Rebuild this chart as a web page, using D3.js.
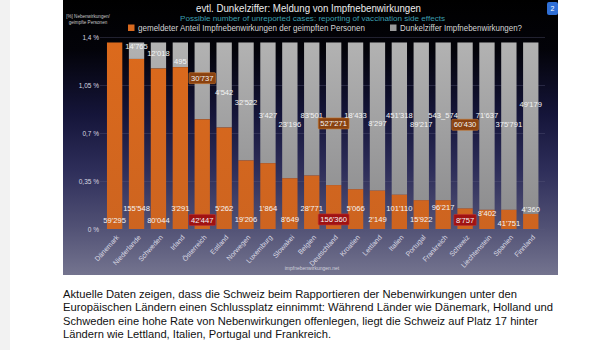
<!DOCTYPE html>
<html><head><meta charset="utf-8">
<script src="https://cdn.jsdelivr.net/npm/d3@7"></script>
<style>html,body{margin:0;padding:0;background:#fff;}svg{display:block;}</style>
</head><body>
<script>
// ---- data ----
const countries = ["Dänemark","Niederlande","Schweden","Irland","Österreich","Estland","Norwegen","Luxemburg","Slowakei","Belgien","Deutschland","Kroatien","Lettland","Italien","Portugal","Frankreich","Schweiz","Liechtenstein","Spanien","Finnland"];
const reportedShare   = [1.36,1.24,1.17,1.18,0.80,0.74,0.50,0.48,0.37,0.39,0.32,0.29,0.28,0.25,0.21,0.21,0.15,0.14,0.14,0.11];
const unreportedShare = [0.00,0.12,0.19,0.18,0.56,0.62,0.86,0.88,0.99,0.97,1.04,1.07,1.08,1.11,1.15,1.15,1.21,1.22,1.22,1.25];
const reportedCases   = ["59'295","155'548","80'044","3'291","42'447","5'262","19'206","1'864","8'649","28'771","156'360","5'066","2'149","101'110","15'922","96'217","8'757","8'402","41'751","4'360"];
const unreportedCases = ["","14'765","12'018","495","30'737","4'542","32'522","3'427","23'196","83'501","527'271","18'433","8'297","451'318","89'217","543_574","60'430","71'637","375'791","49'179"];
const highlighted = ["Österreich","Deutschland","Schweiz"];
const yTicks = [0,0.35,0.7,1.05,1.4];
const yTickLabels = ["0 %","0,35 %","0,7 %","1,05 %","1,4 %"];
const legendLabels = ["gemeldeter Anteil Impfnebenwirkungen der geimpften Personen","Dunkelziffer Impfnebenwirkungen?"];
const title = "evtl. Dunkelziffer: Meldung von Impfnebenwirkungen";
const subtitle = "Possible number of unreported cases: reporting of vaccination side effects";
const yTitle = ["[%] Nebenwirkungen/","geimpfte Personen"];
const source = "impfnebenwirkungen.net";
const paragraph = [
 "Aktuelle Daten zeigen, dass die Schweiz beim Rapportieren der Nebenwirkungen unter den",
 "Europäischen Ländern einen Schlussplatz einnimmt: Während Länder wie Dänemark, Holland und",
 "Schweden eine hohe Rate von Nebenwirkungen offenlegen, liegt die Schweiz auf Platz 17 hinter",
 "Ländern wie Lettland, Italien, Portugal und Frankreich."
];

// ---- layout (label anchor heights in axis units, text widths in px) ----
const topLabelLevel = [null,1.33,1.28,1.22,1.10,1.00,0.92,0.83,0.76,0.83,0.77,0.83,0.77,0.83,0.76,0.83,0.76,0.83,0.76,0.91];
const bottomLabelLevel = [0.066,0.153,0.066,0.153,0.066,0.153,0.07,0.153,0.07,0.153,0.07,0.153,0.07,0.153,0.07,0.16,0.066,0.117,0.044,0.146];
const paragraphWidths = [454,490,475,268];

const W = 600, H = 350;
const S = {x0:63, y0:0, x1:558, y1:275};
const FONT = "'Liberation Sans', Arial, Helvetica, sans-serif";

const svg = d3.select("body").append("svg").attr("width",W).attr("height",H);
const defs = svg.append("defs");
const bg = defs.append("linearGradient").attr("id","bg").attr("x1",0).attr("y1",0).attr("x2",0).attr("y2",1);
[[0,"#000000"],[0.18,"#030309"],[0.42,"#15153a"],[0.62,"#2e2e5a"],[0.82,"#505074"],[1,"#74748f"]].forEach(s=>bg.append("stop").attr("offset",s[0]).attr("stop-color",s[1]));
const gg = defs.append("linearGradient").attr("id","grey").attr("gradientUnits","userSpaceOnUse").attr("x1",0).attr("y1",40).attr("x2",0).attr("y2",229);
gg.append("stop").attr("offset",0).attr("stop-color","#b3b3b3");
gg.append("stop").attr("offset",1).attr("stop-color","#8a8a8c");
const og = defs.append("linearGradient").attr("id","orange").attr("gradientUnits","userSpaceOnUse").attr("x1",0).attr("y1",40).attr("x2",0).attr("y2",229);
og.append("stop").attr("offset",0).attr("stop-color","#dc6a1c");
og.append("stop").attr("offset",1).attr("stop-color","#cd6420");

svg.append("rect").attr("x",0).attr("y",0).attr("width",10).attr("height",H).attr("fill","#f2f2f2");
svg.append("rect").attr("x",S.x0).attr("y",S.y0).attr("width",S.x1-S.x0).attr("height",S.y1-S.y0).attr("fill","url(#bg)");

const x = d3.scaleBand().domain(countries).range([100.4,545]).paddingInner(0.3).paddingOuter(0.3);
const y = d3.scaleLinear().domain([0,1.4]).range([229,37]);

// gridlines + y ticks
const yAxis = d3.axisLeft(y).tickValues(yTicks).tickFormat((d,i)=>yTickLabels[i]).tickSize(-(545-100)).tickPadding(3);
const ga = svg.append("g").attr("transform","translate(100,0)").call(yAxis);
ga.select(".domain").remove();
ga.selectAll(".tick line").attr("stroke","#5a5a7a").attr("stroke-opacity",0.45).attr("stroke-width",0.8);
ga.selectAll(".tick text").attr("fill","#d8d8e0").attr("font-family",FONT).attr("font-size",6.5).attr("x",-1);

// bars
const stackData = countries.map((c,i)=>({c, rep:reportedShare[i], unrep:unreportedShare[i]}));
const bars = svg.append("g");
bars.selectAll(".g").data(stackData).join("rect")
  .attr("x",d=>x(d.c)).attr("width",x.bandwidth())
  .attr("y",d=>y(d.rep+d.unrep)).attr("height",d=>y(d.rep)-y(d.rep+d.unrep))
  .attr("fill","url(#grey)");
bars.selectAll(".o").data(stackData).join("rect")
  .attr("x",d=>x(d.c)).attr("width",x.bandwidth())
  .attr("y",d=>y(d.rep)).attr("height",d=>y(0)-y(d.rep))
  .attr("fill","url(#orange)");

// value labels
function label(g, txt, cx, cy, boxFill){
  const t = g.append("text").attr("x",cx).attr("y",cy).attr("dy","0.35em")
    .attr("text-anchor","middle").attr("font-family",FONT).attr("font-size",7.6)
    .attr("fill","#f4f4f4").text(txt);
  if(boxFill){
    const b = t.node().getBBox();
    g.insert("rect","text:last-child").attr("x",b.x-2).attr("y",cy-5.5).attr("width",b.width+4).attr("height",11)
     .attr("rx",1).attr("fill",boxFill.fill).attr("stroke",boxFill.stroke).attr("stroke-width",0.6);
    t.raise();
  }
}
const lg = svg.append("g");
countries.forEach((c,i)=>{
  const cx = x(c)+x.bandwidth()/2;
  const hi = highlighted.includes(c);
  if(unreportedCases[i]) label(lg.append("g"), unreportedCases[i], cx, y(topLabelLevel[i]), hi?{fill:"#8a4210",stroke:"#c87830"}:null);
  label(lg.append("g"), reportedCases[i], cx, y(bottomLabelLevel[i]), hi?{fill:"#a01212",stroke:"#c03030"}:null);
});

// x labels
const xa = svg.append("g");
countries.forEach(c=>{
  const cx = x(c)+x.bandwidth()/2+3;
  xa.append("text").attr("transform",`translate(${cx},236) rotate(-48)`)
    .attr("text-anchor","end").attr("dy","0.35em").attr("font-family",FONT).attr("font-size",7)
    .attr("fill","#dcdce6").text(c);
});

// titles
svg.append("text").attr("x",308.5).attr("y",11.5).attr("text-anchor","middle").attr("font-family",FONT)
  .attr("font-size",11.5).attr("textLength",225).attr("lengthAdjust","spacingAndGlyphs").attr("fill","#ececec").text(title);
svg.append("text").attr("x",312.5).attr("y",20.5).attr("text-anchor","middle").attr("font-family",FONT)
  .attr("font-size",8).attr("textLength",265).attr("lengthAdjust","spacingAndGlyphs").attr("fill","#3b9eae").text(subtitle);
yTitle.forEach((t,i)=>svg.append("text").attr("x",88).attr("y",18+i*6).attr("text-anchor","middle")
  .attr("font-family",FONT).attr("font-size",4.6).attr("fill","#c8c8c8").text(t));

// legend
const legColors = ["#d8691e","#9a9a9a"];
const legX = [128,390];
const legW = [227,122];
legendLabels.forEach((t,i)=>{
  svg.append("rect").attr("x",legX[i]).attr("y",24.5).attr("width",6.5).attr("height",6.5).attr("fill",legColors[i]);
  svg.append("text").attr("x",legX[i]+10).attr("y",28).attr("dy","0.35em").attr("font-family",FONT)
    .attr("font-size",8.2).attr("textLength",legW[i]).attr("lengthAdjust","spacingAndGlyphs").attr("fill","#d4d4d4").text(t);
});

// badge
svg.append("rect").attr("x",547).attr("y",2).attr("width",11).attr("height",13).attr("rx",2).attr("fill","#2f6fd6");
svg.append("text").attr("x",552.5).attr("y",8.5).attr("dy","0.35em").attr("text-anchor","middle").attr("font-family",FONT)
  .attr("font-size",7).attr("fill","#fff").text("2");

// source
svg.append("text").attr("x",312).attr("y",268).attr("dy","0.35em").attr("text-anchor","middle").attr("font-family",FONT)
  .attr("font-size",5).attr("fill","#d0d0dc").text(source);

// paragraph
paragraph.forEach((t,i)=>svg.append("text").attr("x",63).attr("y",297.5+i*13.6)
  .attr("font-family",FONT).attr("font-size",11.4).attr("textLength",paragraphWidths[i]).attr("lengthAdjust","spacingAndGlyphs")
  .attr("fill","#111").text(t));
</script>
</body></html>
